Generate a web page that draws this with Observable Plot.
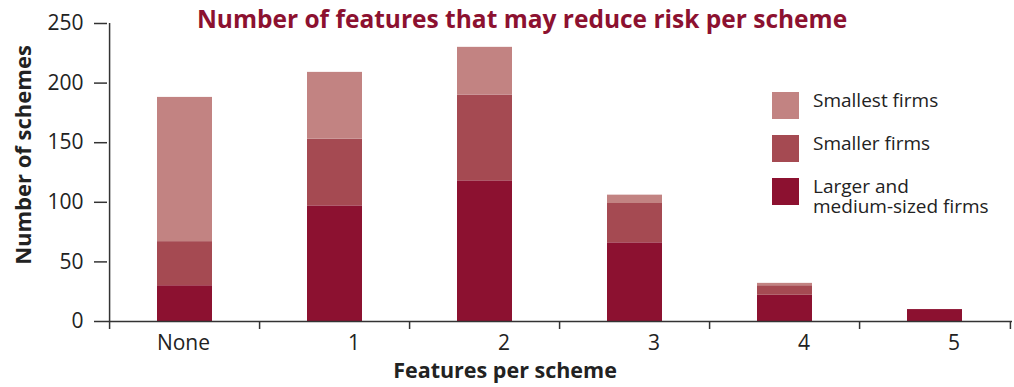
<!DOCTYPE html>
<html>
<head>
<meta charset="utf-8">
<script src="https://cdn.jsdelivr.net/npm/d3@7"></script>
<script src="https://cdn.jsdelivr.net/npm/@observablehq/plot@0.6"></script>
<style>
  html, body { margin: 0; padding: 0; background: #fff; }
  #wrap { position: relative; width: 1014px; height: 387px; font-family: "Open Sans", sans-serif; }
  #legend { position: absolute; left: 772px; top: 92px; color: #222; font-size: 19px; }
  .item { position: absolute; left: 0; white-space: nowrap; }
  .sw { position: absolute; left: 0; top: 0; width: 27px; height: 27px; }
  .lab { position: absolute; left: 41px; top: -2.5px; line-height: 20px; }
  #ytitle { position: absolute; left: 22px; top: 155px; transform: translate(-50%, -50%) rotate(-90deg);
            white-space: nowrap; font-weight: bold; font-size: 22px; color: #222; }
</style>
</head>
<body>
<div id="wrap"></div>
<script>
// Schemes by number of risk-reducing features, split by firm size
const categories = ["None", "1", "2", "3", "4", "5"];
const larger   = [30, 97, 118, 66, 22, 10];
const smaller  = [37, 56, 72, 33, 8, 0];
const smallest = [121, 56, 40, 7, 2, 0];
const seriesNames = ["Larger and medium-sized firms", "Smaller firms", "Smallest firms"];
const seriesColors = ["#8c1130", "#a54a52", "#c28382"];
const yTicks = [0, 50, 100, 150, 200, 250];

const title = "Number of features that may reduce risk per scheme";
const xTitle = "Features per scheme";
const yTitle = "Number of schemes";

// Long format, bottom segment first so the stack keeps input order
const rows = [];
[larger, smaller, smallest].forEach((vals, s) => {
  vals.forEach((v, i) => rows.push({feature: categories[i], series: seriesNames[s], count: v}));
});

const width = 1014, height = 387;
const marginLeft = 107, marginRight = 2, marginTop = 23, marginBottom = 66;
const step = (width - marginLeft - marginRight) / categories.length;
const axisColor = "#333";
const font = "Open Sans, sans-serif";

const chart = Plot.plot({
  width, height, marginLeft, marginRight, marginTop, marginBottom,
  style: {fontFamily: font, background: "#fff", overflow: "visible"},
  x: {domain: categories, paddingInner: 0.635, paddingOuter: 0.3175, label: null, axis: null},
  y: {domain: [0, 250], label: null, axis: null},
  color: {domain: seriesNames, range: seriesColors},
  marks: [
    Plot.barY(rows, {x: "feature", y: "count", fill: "series", order: null}),
    // y axis
    Plot.axisY({ticks: yTicks, tickSize: 13, tickPadding: 11, fontSize: 21, stroke: axisColor, strokeWidth: 1.5, fill: "#222", label: null}),
    Plot.ruleX([categories[0]], {x: d => d, y1: 0, y2: 250, dx: -step / 2, stroke: axisColor, strokeWidth: 1.5}),
    // x axis baseline and boundary ticks
    Plot.ruleY([0], {stroke: axisColor, strokeWidth: 1.5}),
    Plot.axisX({ticks: categories, tickSize: 8, tickFormat: () => "", dx: -step / 2, stroke: axisColor, strokeWidth: 1.5, label: null}),
    Plot.axisX({ticks: categories.slice(-1), tickSize: 8, tickFormat: () => "", dx: step / 2, stroke: axisColor, strokeWidth: 1.5, label: null}),
    // category labels, right-aligned near the bar edge
    Plot.axisX({ticks: categories, tickSize: 0, tickPadding: 14, textAnchor: "end", dx: 25, fontSize: 21, fill: "#222", label: null}),
    // titles
    Plot.text([title], {frameAnchor: "top", lineAnchor: "middle", dx: -38, dy: -3, fontSize: 24.5, fontWeight: "bold", fill: "#8c1130"}),
    Plot.text([xTitle], {frameAnchor: "bottom", lineAnchor: "middle", dx: -55, dy: 50, fontSize: 21.5, fontWeight: "bold", fill: "#222"})
  ]
});

const wrap = document.getElementById("wrap");
wrap.appendChild(chart);

const yt = document.createElement("div");
yt.id = "ytitle";
yt.textContent = yTitle;
wrap.appendChild(yt);

// Legend: lightest segment listed first
const legend = document.createElement("div");
legend.id = "legend";
const order = [2, 1, 0];
order.forEach((s, k) => {
  const item = document.createElement("div");
  item.className = "item";
  item.style.top = (k * 43) + "px";
  const sw = document.createElement("div");
  sw.className = "sw";
  sw.style.background = seriesColors[s];
  const lab = document.createElement("div");
  lab.className = "lab";
  lab.innerHTML = s === 0 ? "Larger and<br>medium-sized firms" : seriesNames[s];
  item.appendChild(sw);
  item.appendChild(lab);
  legend.appendChild(item);
});
wrap.appendChild(legend);
</script>
</body>
</html>
